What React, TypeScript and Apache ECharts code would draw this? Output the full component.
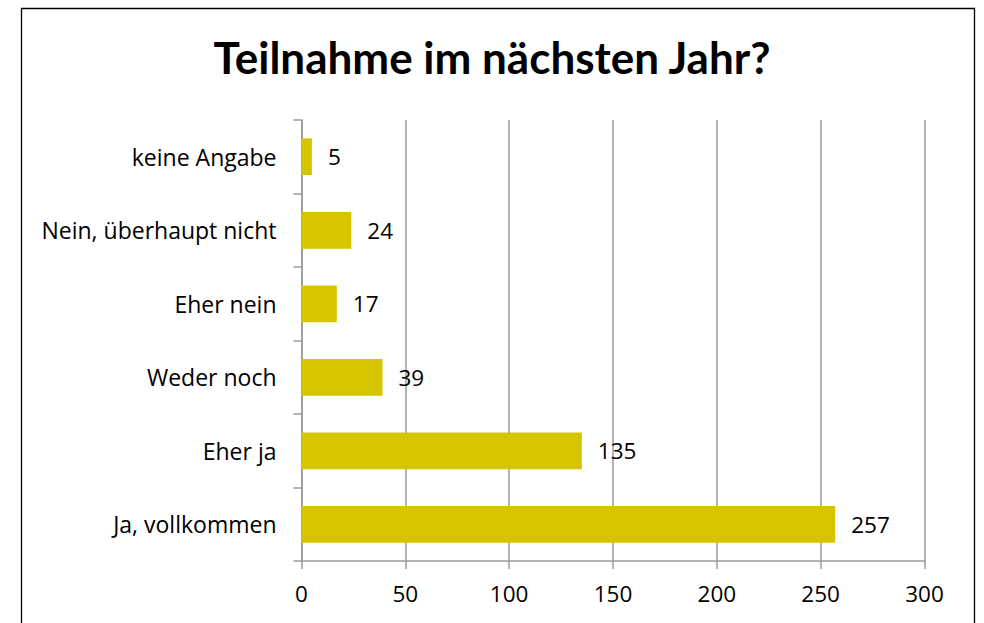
import React, { useEffect, useRef } from "react";
import * as echarts from "echarts";

const categories = [
  "Ja, vollkommen",
  "Eher ja",
  "Weder noch",
  "Eher nein",
  "Nein, überhaupt nicht",
  "keine Angabe",
];
const values = [257, 135, 39, 17, 24, 5];
const titleText = "Teilnahme im nächsten Jahr?";

export default function App() {
  const ref = useRef<HTMLDivElement>(null);
  useEffect(() => {
    if (!ref.current) return;
    const chart = echarts.init(ref.current, undefined, { renderer: "svg" });
    const font = "Open Sans";
    chart.setOption({
      animation: false,
      backgroundColor: "#ffffff",
      title: {
        text: titleText,
        left: "center",
        top: 30,
        textStyle: {
          fontFamily: "Lato",
          fontWeight: "bold",
          fontSize: 44,
          color: "#000000",
        },
      },
      graphic: [
        {
          type: "rect",
          shape: { x: 21.5, y: 8.5, width: 953, height: 640 },
          style: { fill: "none", stroke: "#000000", lineWidth: 1.3 },
          silent: true,
        },
      ],
      grid: { left: 301.5, right: 59.5, top: 120, bottom: 62, containLabel: false },
      xAxis: {
        type: "value",
        min: 0,
        max: 300,
        interval: 50,
        axisLine: { show: true, lineStyle: { color: "#9a9a9a", width: 1.5 } },
        axisTick: { show: true, length: 8, lineStyle: { color: "#9a9a9a", width: 1.5 } },
        splitLine: { show: true, lineStyle: { color: "#9a9a9a", width: 1.5 } },
        axisLabel: { fontFamily: font, fontSize: 22.5, color: "#000000", margin: 21 },
      },
      yAxis: {
        type: "category",
        data: categories,
        axisLine: { show: true, lineStyle: { color: "#9a9a9a", width: 1.5 } },
        axisTick: { show: true, length: 8, lineStyle: { color: "#9a9a9a", width: 1.5 } },
        axisLabel: { fontFamily: font, fontSize: 23, color: "#000000", margin: 25 },
      },
      series: [
        {
          type: "bar",
          data: values,
          barWidth: "50%",
          itemStyle: { color: "#D6C400" },
          label: {
            show: true,
            position: "right",
            distance: 16,
            fontFamily: font,
            fontSize: 22.5,
            color: "#000000",
          },
        },
      ],
    });
    return () => chart.dispose();
  }, []);
  return <div ref={ref} style={{ width: 984, height: 623, position: "absolute", left: 0, top: 0 }} />;
}
